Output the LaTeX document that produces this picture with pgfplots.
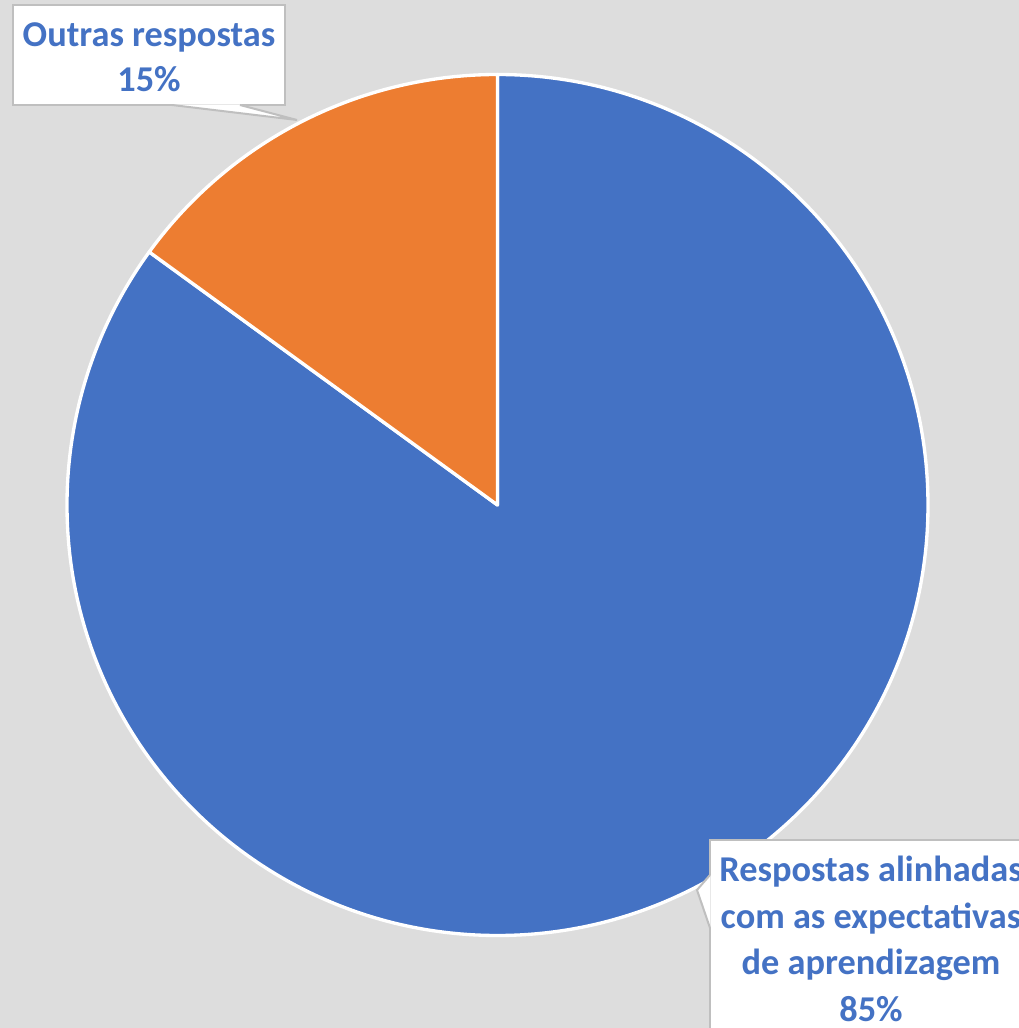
\documentclass[border=0pt]{standalone}
\usepackage{pgfplots}
\pgfplotsset{compat=1.18}
\usepackage{pgfplotstable}
\usepackage{fontspec}
\setmainfont{Carlito}
\definecolor{pieblue}{HTML}{4472C4}
\definecolor{pieorange}{HTML}{ED7D31}
\definecolor{bg}{HTML}{DDDDDD}
\definecolor{boxgray}{HTML}{BFBFBF}
\definecolor{txtblue}{HTML}{4472C4}
\pgfplotstableread{
label share
Respostas 85
Outras 15
}\piedata
\begin{document}
\begin{tikzpicture}
\path[use as bounding box, clip] (0,0) rectangle (305.7pt,308.4pt);
\pgfplotstablegetelem{0}{share}\of\piedata \let\vA\pgfplotsretval
\pgfplotstablegetelem{1}{share}\of\piedata \let\vB\pgfplotsretval
\begin{axis}[
  at={(0,0)}, anchor=south west,
  scale only axis, width=305.7pt, height=308.4pt,
  xmin=0, xmax=1019, ymin=0, ymax=1028,
  hide axis, clip=false,
  axis background/.style={fill=bg},
]
\addplot[draw=none] coordinates {(0,0) (1019,1028)};
% blue slice (85%), clockwise from 12 o'clock
\filldraw[fill=pieblue, draw=white, line width=1pt, line join=round]
  (axis cs:497.5,523) -- ++(90:129.15pt)
  arc[start angle=90, end angle={90-3.6*\vA}, radius=129.15pt] -- cycle;
% orange slice (15%)
\filldraw[fill=pieorange, draw=white, line width=1pt, line join=round]
  (axis cs:497.5,523) -- ++(90:129.15pt)
  arc[start angle=90, end angle={90+3.6*\vB}, radius=129.15pt] -- cycle;
% label box 1
\filldraw[fill=white, draw=boxgray, line width=0.6pt]
  (axis cs:13,1023) rectangle (axis cs:285,923);
\fill[white] (axis cs:172,923.6) -- (axis cs:297,908) -- (axis cs:240,923.6) -- cycle;
\draw[boxgray, line width=0.6pt] (axis cs:172,923) -- (axis cs:297,908) -- (axis cs:240,923);
\node[align=center, text=txtblue, font=\fontsize{10.9}{13.4}\selectfont\bfseries]
  at (axis cs:149,971) {Outras respostas\\\vB\%};
% label box 2
\filldraw[fill=white, draw=boxgray, line width=0.6pt]
  (axis cs:710,188) rectangle (axis cs:1040,-20);
\fill[white] (axis cs:710.6,153) -- (axis cs:697,138) -- (axis cs:710.6,100) -- cycle;
\draw[boxgray, line width=0.6pt] (axis cs:710,153) -- (axis cs:697,138) -- (axis cs:710,100);
\node[align=center, text=txtblue, font=\fontsize{10.9}{14}\selectfont\bfseries]
  at (axis cs:871,89) {Respostas alinhadas\\com as expectativas\\de aprendizagem\\\vA\%};
\end{axis}
\end{tikzpicture}
\end{document}
